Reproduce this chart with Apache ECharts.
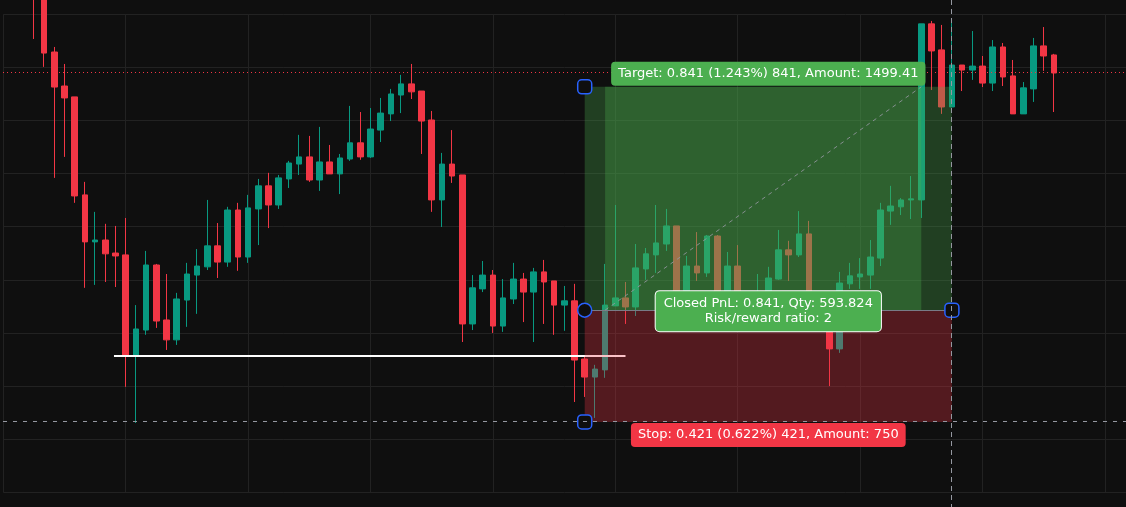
<!DOCTYPE html>
<html>
<head>
<meta charset="utf-8">
<script src="https://cdn.jsdelivr.net/npm/echarts@6/dist/echarts.min.js"></script>
<style>
html,body{margin:0;padding:0;background:#0f0f0f;}
#chart{width:1126px;height:507px;}
</style>
</head>
<body>
<div id="chart"></div>
<script>
// ---------- DATA (OHLC per bar) ----------
const opens = [68.967, 68.862, 68.658, 68.530, 68.489, 68.120, 67.943, 67.950, 67.901, 67.894,
 67.517, 67.611, 67.856, 67.649, 67.574, 67.724, 67.818, 67.849, 67.928, 67.867,
 68.063, 67.886, 68.067, 68.154, 68.082, 68.180, 68.236, 68.263, 68.176, 68.244,
 68.199, 68.255, 68.316, 68.263, 68.364, 68.425, 68.496, 68.538, 68.511, 68.402,
 68.101, 68.236, 68.195, 67.634, 67.766, 67.818, 67.626, 67.728, 67.803, 67.754,
 67.830, 67.796, 67.705, 67.721, 67.502, 67.434, 67.461, 67.702, 67.732, 67.698,
 67.841, 67.894, 67.935, 68.003, 67.739, 67.852, 67.826, 67.965, 67.724, 67.852,
 67.717, 67.657, 67.724, 67.803, 67.913, 67.894, 67.973, 67.724, 67.657, 67.540,
 67.785, 67.811, 67.818, 67.882, 68.059, 68.075, 68.101, 68.101, 68.764, 68.666,
 68.451, 68.609, 68.590, 68.605, 68.541, 68.677, 68.568, 68.425, 68.519, 68.681,
 68.647];
const closes = [68.862, 68.654, 68.526, 68.485, 68.116, 67.943, 67.950, 67.898, 67.890, 67.517,
 67.615, 67.856, 67.645, 67.574, 67.728, 67.822, 67.852, 67.928, 67.867, 68.063,
 67.886, 68.071, 68.154, 68.082, 68.184, 68.240, 68.263, 68.176, 68.244, 68.199,
 68.259, 68.316, 68.263, 68.368, 68.428, 68.500, 68.538, 68.508, 68.398, 68.101,
 68.236, 68.191, 67.634, 67.770, 67.818, 67.626, 67.732, 67.803, 67.754, 67.830,
 67.792, 67.705, 67.721, 67.498, 67.434, 67.464, 67.705, 67.732, 67.698, 67.845,
 67.898, 67.939, 68.003, 67.739, 67.852, 67.826, 67.965, 67.724, 67.852, 67.717,
 67.657, 67.724, 67.807, 67.913, 67.894, 67.973, 67.724, 67.649, 67.540, 67.788,
 67.815, 67.822, 67.886, 68.063, 68.078, 68.101, 68.105, 68.764, 68.662, 68.451,
 68.609, 68.590, 68.605, 68.541, 68.677, 68.564, 68.425, 68.523, 68.681, 68.643,
 68.579];
const lows = [68.707, 68.602, 68.184, 68.263, 68.090, 67.770, 67.781, 67.792, 67.773, 67.397,
 67.261, 67.593, 67.619, 67.536, 67.555, 67.623, 67.672, 67.837, 67.807, 67.849,
 67.834, 67.864, 67.931, 67.995, 68.067, 68.146, 68.195, 68.169, 68.135, 68.199,
 68.123, 68.248, 68.252, 68.259, 68.319, 68.398, 68.428, 68.481, 68.274, 68.056,
 67.999, 68.165, 67.566, 67.611, 67.754, 67.600, 67.604, 67.709, 67.641, 67.566,
 67.634, 67.593, 67.608, 67.340, 67.359, 67.280, 67.431, 67.702, 67.634, 67.664,
 67.800, 67.826, 67.909, 67.724, 67.724, 67.796, 67.811, 67.709, 67.702, 67.694,
 67.626, 67.641, 67.713, 67.800, 67.796, 67.886, 67.705, 67.626, 67.400, 67.525,
 67.766, 67.766, 67.766, 67.852, 68.007, 68.044, 68.029, 68.033, 68.515, 68.425,
 68.451, 68.511, 68.553, 68.526, 68.511, 68.530, 68.425, 68.425, 68.470, 68.587,
 68.432];
const highs = [69.005, 68.873, 68.677, 68.613, 68.489, 68.169, 68.056, 68.011, 68.003, 68.033,
 67.705, 67.909, 67.860, 67.822, 67.751, 67.864, 67.916, 68.101, 68.014, 68.075,
 68.090, 68.120, 68.180, 68.203, 68.195, 68.248, 68.346, 68.342, 68.376, 68.308,
 68.274, 68.455, 68.432, 68.447, 68.485, 68.519, 68.572, 68.613, 68.511, 68.436,
 68.278, 68.364, 68.195, 67.818, 67.871, 67.837, 67.803, 67.864, 67.826, 67.845,
 67.875, 67.796, 67.777, 67.785, 67.510, 67.480, 67.860, 68.082, 67.792, 67.935,
 67.920, 68.082, 68.067, 68.003, 67.890, 67.980, 67.969, 67.969, 67.905, 67.931,
 67.739, 67.822, 67.849, 67.988, 67.947, 68.059, 68.022, 67.743, 67.687, 67.830,
 67.864, 67.882, 67.950, 68.090, 68.154, 68.108, 68.191, 68.764, 68.775, 68.760,
 68.782, 68.609, 68.737, 68.643, 68.703, 68.692, 68.628, 68.545, 68.711, 68.752,
 68.651];

// Position tool (long) and other drawings
const entryPrice = 67.686;
const targetPrice = 68.527;
const stopPrice = 67.265;
const boxStartBar = 54, boxEndBar = 90;
const tradeEntryBar = 56, tradeExitBar = 87;
const supportPrice = 67.512, supportFromBar = 7.85, supportToBar = 58;
const crosshairBar = 90, crosshairPrice = 67.266;

const targetText = 'Target: 0.841 (1.243%) 841, Amount: 1499.41';
const closedText = 'Closed PnL: 0.841, Qty: 593.824\nRisk/reward ratio: 2';
const stopText = 'Stop: 0.421 (0.622%) 421, Amount: 750';

// Scale settings
const priceMin = 67.0, priceMax = 68.8, priceStep = 0.2;
const barGridStep = 12;

// ---------- LAYOUT ----------
const BAR_OFFSET = 3;
const BAR_PX = 10.2;
const GRID_LEFT = 3.3, GRID_TOP = 14.3, GRID_BOTTOM = 14.7;
const W = 1126;
const xMax = (W - GRID_LEFT) / BAR_PX;

const candleData = opens.map((o, i) => [i + BAR_OFFSET, o, closes[i], lows[i], highs[i]]);

const UP = '#089981', DOWN = '#f23645';

function crisp(v) { return Math.round(v - 0.5) + 0.5; }

function renderDrawings(params, api) {
  const cs = params.coordSys;
  const pt = (bar, price) => api.coord([bar + BAR_OFFSET, price]);
  const CW = api.getWidth(), CH = api.getHeight();
  const [xL, yT] = pt(boxStartBar, targetPrice);
  const [xR, yE] = pt(boxEndBar, entryPrice);
  const yS = pt(boxStartBar, stopPrice)[1];
  const [xEn, yEn] = pt(tradeEntryBar, entryPrice);
  const [xEx, yEx] = pt(tradeExitBar, targetPrice);
  const [sx1, sy] = pt(supportFromBar, supportPrice);
  const sx2 = pt(supportToBar, supportPrice)[0];
  const yP = crisp(pt(0, closes[closes.length - 1])[1]);
  const [xC0, yC0] = pt(crosshairBar, crosshairPrice);
  const xC = crisp(xC0), yC = crisp(yC0);
  const yEc = crisp(yE);
  const x0 = Math.round(cs.x);
  const xc = (xL + xR) / 2;
  const sq = (x, y) => ({ type: 'rect', shape: { x: x - 7, y: y - 7, width: 14, height: 14, r: 4 },
    style: { fill: '#0f0f0f', stroke: '#2962ff', lineWidth: 1.5 } });
  const labelStyle = {
    fill: '#ffffff', fontSize: 13, fontFamily: 'DejaVu Sans', align: 'center',
    borderRadius: 4, lineHeight: 14
  };
  return {
    type: 'group',
    children: [
      { type: 'line', shape: { x1: x0, y1: yP, x2: CW, y2: yP },
        style: { stroke: '#f23645', lineWidth: 1, lineDash: [1, 3] } },
      { type: 'line', shape: { x1: sx1, y1: Math.round(sy), x2: sx2, y2: Math.round(sy) },
        style: { stroke: '#ffffff', lineWidth: 2 } },
      { type: 'rect', shape: { x: xL, y: yT, width: xR - xL, height: yE - yT },
        style: { fill: 'rgba(76,175,80,0.3)' } },
      { type: 'rect', shape: { x: xEn, y: yT, width: xEx - xEn, height: yE - yT },
        style: { fill: 'rgba(76,175,80,0.3)' } },
      { type: 'rect', shape: { x: xL, y: yE, width: xR - xL, height: yS - yE },
        style: { fill: 'rgba(242,54,69,0.3)' } },
      { type: 'line', shape: { x1: xL, y1: yEc, x2: xR, y2: yEc },
        style: { stroke: '#787b86', lineWidth: 1 } },
      { type: 'line', shape: { x1: xEn, y1: yEn, x2: xEx, y2: yEx },
        style: { stroke: 'rgba(149,152,161,0.85)', lineWidth: 1, lineDash: [4, 4] } },
      sq(xL, yT),
      sq(xL, yS),
      sq(xR, yE),
      { type: 'circle', shape: { cx: xL, cy: yE, r: 7 },
        style: { fill: '#0f0f0f', stroke: '#2962ff', lineWidth: 1.5 } },
      { type: 'line', shape: { x1: xC, y1: 0, x2: xC, y2: CH },
        style: { stroke: '#9598a1', lineWidth: 1, lineDash: [5, 4] } },
      { type: 'line', shape: { x1: x0, y1: yC, x2: CW, y2: yC },
        style: { stroke: '#9598a1', lineWidth: 1, lineDash: [4, 6] } },
      { type: 'text', style: Object.assign({}, labelStyle, {
          text: targetText, x: xc, y: yT - 1, verticalAlign: 'bottom',
          backgroundColor: '#4caf50', padding: [5, 7, 5, 7] }) },
      { type: 'text', style: Object.assign({}, labelStyle, {
          text: closedText, x: xc, y: yE + 1, verticalAlign: 'middle', lineHeight: 15,
          backgroundColor: '#4caf50', borderColor: '#ffffff', borderWidth: 1, padding: [5, 8, 5, 8] }) },
      { type: 'text', style: Object.assign({}, labelStyle, {
          text: stopText, x: xc, y: yS + 1, verticalAlign: 'top',
          backgroundColor: '#f23645', padding: [5, 7, 5, 7] }) }
    ]
  };
}

const chart = echarts.init(document.getElementById('chart'), null, { renderer: 'canvas' });
chart.setOption({
  backgroundColor: '#0f0f0f',
  animation: false,
  grid: { left: GRID_LEFT, right: 0, top: GRID_TOP, bottom: GRID_BOTTOM, containLabel: false },
  xAxis: {
    type: 'value', min: 0, max: xMax, interval: barGridStep,
    axisLine: { show: false }, axisTick: { show: false }, axisLabel: { show: false },
    splitLine: { show: true, lineStyle: { color: '#222222', width: 1 } }
  },
  yAxis: {
    type: 'value', min: priceMin, max: priceMax, interval: priceStep, scale: true,
    axisLine: { show: false }, axisTick: { show: false }, axisLabel: { show: false },
    splitLine: { show: true, lineStyle: { color: '#222222', width: 1 } }
  },
  series: [
    {
      type: 'candlestick',
      data: candleData,
      clip: false,
      barWidth: 6,
      z: 2,
      itemStyle: { color: UP, color0: DOWN, borderColor: UP, borderColor0: DOWN, borderWidth: 1 }
    },
    {
      type: 'custom',
      data: [[0, priceMin]],
      z: 5,
      silent: true,
      clip: false,
      renderItem: renderDrawings
    }
  ]
});
</script>
</body>
</html>
